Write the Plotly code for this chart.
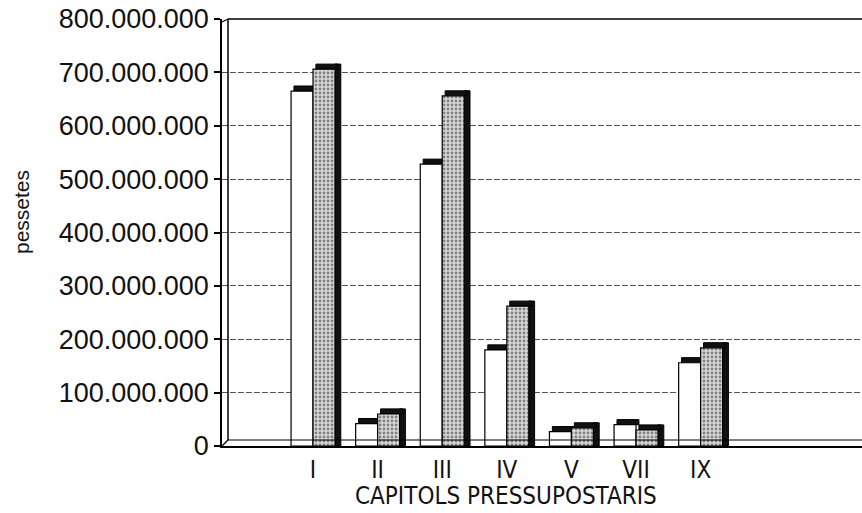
import plotly.graph_objects as go

# ---- data ----
categories = ["I", "II", "III", "IV", "V", "VII", "IX"]
positions = [1, 2, 3, 4, 5, 6, 7]
serie_blanca = [665_000_000, 42_000_000, 528_000_000, 180_000_000, 27_000_000, 40_000_000, 156_000_000]
serie_trama = [706_000_000, 60_000_000, 656_000_000, 262_000_000, 34_000_000, 30_000_000, 184_000_000]
y_ticks = [0, 100_000_000, 200_000_000, 300_000_000, 400_000_000,
           500_000_000, 600_000_000, 700_000_000, 800_000_000]
y_ticktext = ["0", "100.000.000", "200.000.000", "300.000.000", "400.000.000",
              "500.000.000", "600.000.000", "700.000.000", "800.000.000"]

# ---- style constants ----
W = 0.34          # bar face width (category units)
DX = 0.09         # 3D depth, horizontal (category units)
DEPTH = 9_500_000 # 3D depth, vertical (value units)
FONT = "Liberation Sans, Arial, sans-serif"
NARROW = "Liberation Sans Narrow, Arial Narrow, DejaVu Sans Condensed, sans-serif"

fig = go.Figure()

# white series: cap + front face
fig.add_trace(go.Bar(x=positions, y=[DEPTH] * len(serie_blanca), base=serie_blanca,
                     width=W, offset=-W + DX / 2, marker=dict(color="#111111", line=dict(color="black", width=1)),
                     hoverinfo="skip", showlegend=False))
fig.add_trace(go.Bar(x=positions, y=serie_blanca, width=W, offset=-W,
                     marker=dict(color="white", line=dict(color="black", width=1.2)),
                     name="A", showlegend=False))
# patterned series: side + cap + front face
fig.add_trace(go.Bar(x=positions, y=[v + DEPTH for v in serie_trama],
                     width=DX, offset=W, marker=dict(color="#111111", line=dict(color="black", width=1)),
                     hoverinfo="skip", showlegend=False))
fig.add_trace(go.Bar(x=positions, y=[DEPTH] * len(serie_trama), base=serie_trama,
                     width=W, offset=DX / 2, marker=dict(color="#111111", line=dict(color="black", width=1)),
                     hoverinfo="skip", showlegend=False))
fig.add_trace(go.Bar(x=positions, y=serie_trama, width=W, offset=0,
                     marker=dict(color="white", line=dict(color="black", width=1.2),
                                 pattern=dict(shape=".", fgcolor="#2a2a2a", bgcolor="#d8d8d8",
                                              size=4, solidity=0.4)),
                     name="B", showlegend=False))

PLOT_L, PLOT_R, PLOT_T, PLOT_B = 222, 862, 19, 446
pw = PLOT_R - PLOT_L
ph = PLOT_B - PLOT_T

fig.update_layout(
    width=862, height=513,
    margin=dict(l=PLOT_L, r=862 - PLOT_R, t=PLOT_T, b=513 - PLOT_B, pad=0),
    paper_bgcolor="white", plot_bgcolor="white",
    barmode="overlay",
    font=dict(family=FONT, color="#111111"),
    xaxis=dict(range=[-0.409, 9.498], tickmode="array", tickvals=positions, ticktext=categories,
               ticks="outside", ticklen=1, tickcolor="rgba(0,0,0,0)",
               showline=True, linecolor="black", linewidth=1.5, showgrid=False, zeroline=False,
               tickfont=dict(family=NARROW, size=24, color="#111111")),
    yaxis=dict(range=[0, 800_000_000], tickmode="array", tickvals=y_ticks, ticktext=y_ticktext,
               ticks="outside", ticklen=6, tickcolor="black", tickwidth=1.5,
               showline=True, linecolor="black", linewidth=1.5,
               showgrid=True, gridcolor="#555555", griddash="6px,2px", gridwidth=1,
               zeroline=False,
               tickfont=dict(family=FONT, size=27, color="#111111")),
    shapes=[
        # back wall left edge
        dict(type="line", xref="paper", yref="paper", x0=6 / pw, x1=6 / pw, y0=6 / ph, y1=1,
             line=dict(color="black", width=1.5)),
        # back wall top edge
        dict(type="line", xref="paper", yref="paper", x0=6 / pw, x1=1, y0=1, y1=1,
             line=dict(color="black", width=1.5)),
        dict(type="line", xref="paper", yref="paper", x0=0, x1=6 / pw, y0=1 - 3 / ph, y1=1,
             line=dict(color="black", width=1.2)),
        # back floor edge
        dict(type="line", xref="paper", yref="paper", x0=6 / pw, x1=1, y0=6 / ph, y1=6 / ph,
             line=dict(color="black", width=1.2)),
        dict(type="line", xref="paper", yref="paper", x0=0, x1=6 / pw, y0=0, y1=6 / ph,
             line=dict(color="black", width=1.2)),
    ],
    annotations=[
        dict(text="pessetes", xref="paper", yref="paper", x=(22 - PLOT_L) / pw, y=(PLOT_B - 212) / ph,
             textangle=-90, showarrow=False, xanchor="center", yanchor="middle",
             font=dict(family=FONT, size=21, color="#111111")),
        dict(text="CAPITOLS PRESSUPOSTARIS", xref="paper", yref="paper",
             x=(506 - PLOT_L) / pw, y=(PLOT_B - 496) / ph, showarrow=False,
             xanchor="center", yanchor="middle",
             font=dict(family=NARROW, size=24, color="#111111")),
    ],
)

fig.write_html("out.html", config={"displayModeBar": False},
               post_script="document.body.style.margin='0';")
